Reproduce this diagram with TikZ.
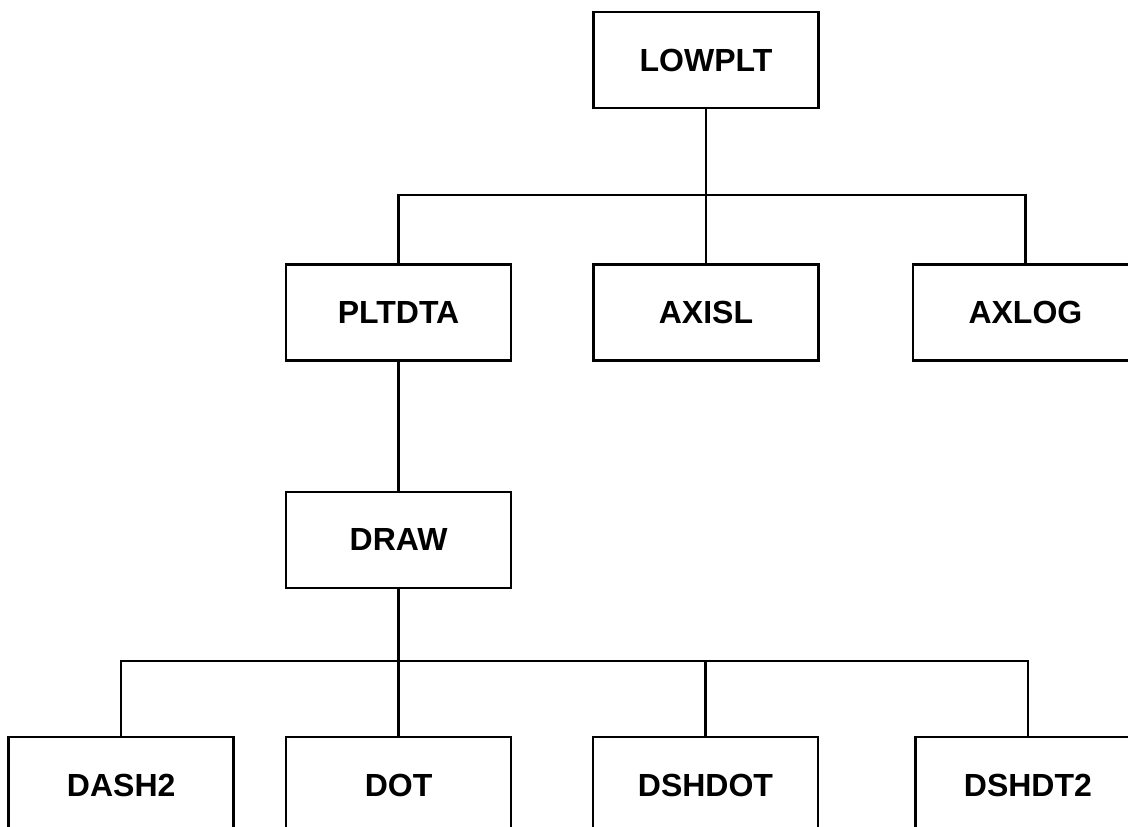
\documentclass[tikz,border=0pt]{standalone}
\usepackage{fontspec}
\setmainfont{Liberation Sans}
\usetikzlibrary{positioning}

\tikzset{
  routine/.style={draw, line width=1.2pt, minimum width=112.5pt, minimum height=48pt,
    inner sep=0pt, font=\fontsize{16}{18}\selectfont\bfseries},
  link/.style={line width=1.2pt},
}

\begin{document}
\begin{tikzpicture}

\useasboundingbox (-353pt,30pt) rectangle (211pt,-383pt);
\clip (-353pt,30pt) rectangle (211pt,-383pt);

%Declare nodes.
\node[routine] (lowplt) at (0,0) {LOWPLT};
\node[routine, below=77pt of lowplt] (axisl) {AXISL};
\node[routine, left=40pt of axisl] (pltdta) {PLTDTA};
\node[routine, right=46pt of axisl] (axlog) {AXLOG};
\node[routine, below=64.5pt of pltdta] (drw) {DRAW};
\node[routine, below=73.5pt of drw] (dot) {DOT};
\node[routine, left=25pt of dot] (dash2) {DASH2};
\node[routine, right=39.75pt of dot] (dshdot) {DSHDOT};
\node[routine, right=47.5pt of dshdot] (dshdt2) {DSHDT2};

%Setup buses.
\coordinate[below=43pt of lowplt] (bus1);
\coordinate[below=36pt of drw] (bus2);

%Setup edges.
\draw[link] (lowplt) -- (axisl);
\draw[link] (pltdta) |- (bus1) -| (axlog);
\draw[link] (pltdta) -- (drw);
\draw[link] (drw) -- (dot);
\draw[link] (dash2) |- (bus2) -| (dshdt2);
\draw[link] (dshdot) -- (dshdot |- bus2);

\end{tikzpicture}
\end{document}
